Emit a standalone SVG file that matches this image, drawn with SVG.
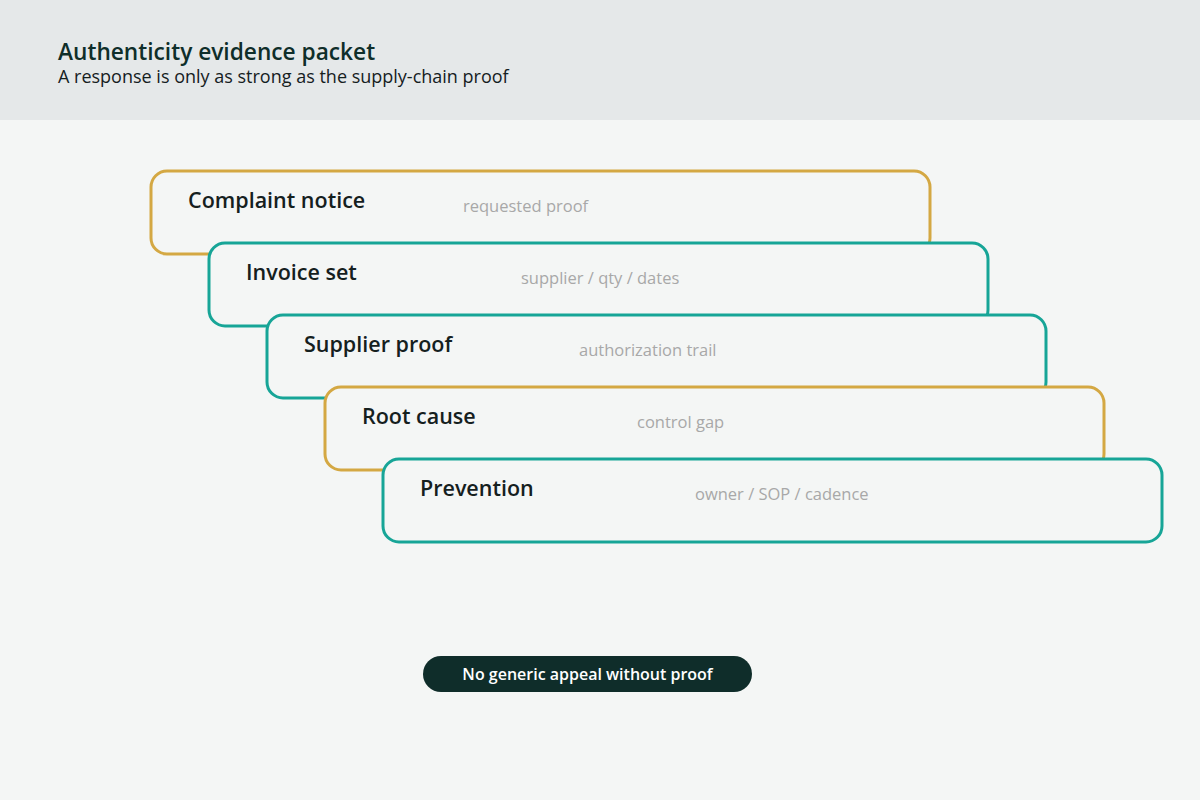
<svg xmlns="http://www.w3.org/2000/svg" width="1200" height="800" viewBox="0 0 1200 800">
<style>
.card{fill:#f4f6f5;stroke-width:3}
.gold{stroke:#d4a843}
.teal{stroke:#17a597}
.lbl{font-family:"Open Sans","Noto Sans",sans-serif;font-size:21.5px;font-weight:600;fill:#15201e}
.sub{font-family:"Open Sans","Noto Sans",sans-serif;font-size:16.5px;fill:#a8a8a8}
</style>
<rect x="0" y="0" width="1200" height="800" fill="#f4f6f5"/>
<rect x="0" y="0" width="1200" height="120" fill="#e5e8e9"/>
<text x="58" y="60" font-family="'Open Sans','Noto Sans',sans-serif" font-size="22.7" font-weight="600" fill="#0f2e2a">Authenticity evidence packet</text>
<text x="58" y="83" font-family="'Open Sans','Noto Sans',sans-serif" font-size="18" fill="#15201e">A response is only as strong as the supply-chain proof</text>
<g id="connectors"></g>
<g id="node-complaint">
<rect class="card gold" x="151" y="171" width="779" height="83" rx="16"/>
<text class="lbl" x="188" y="208">Complaint notice</text>
<text class="sub" x="463" y="212">requested proof</text>
</g>
<g id="node-invoice">
<rect class="card teal" x="209" y="243" width="779" height="83" rx="16"/>
<text class="lbl" x="246" y="280">Invoice set</text>
<text class="sub" x="521" y="284">supplier / qty / dates</text>
</g>
<g id="node-supplier">
<rect class="card teal" x="267" y="315" width="779" height="83" rx="16"/>
<text class="lbl" x="304" y="352">Supplier proof</text>
<text class="sub" x="579" y="356">authorization trail</text>
</g>
<g id="node-rootcause">
<rect class="card gold" x="325" y="387" width="779" height="83" rx="16"/>
<text class="lbl" x="362" y="424">Root cause</text>
<text class="sub" x="637" y="428">control gap</text>
</g>
<g id="node-prevention">
<rect class="card teal" x="383" y="459" width="779" height="83" rx="16"/>
<text class="lbl" x="420" y="496">Prevention</text>
<text class="sub" x="695" y="500">owner / SOP / cadence</text>
</g>
<g id="node-banner">
<rect x="423" y="656" width="329" height="36" rx="18" fill="#0f2d2a"/>
<text x="587.5" y="680" text-anchor="middle" font-family="'Open Sans','Noto Sans',sans-serif" font-size="16" font-weight="600" fill="#ffffff">No generic appeal without proof</text>
</g>
</svg>
